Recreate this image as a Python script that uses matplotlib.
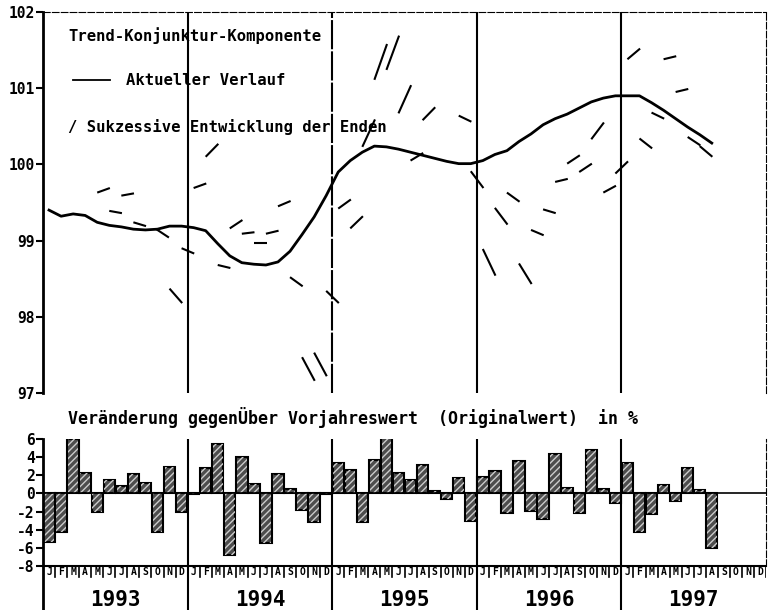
import numpy as np
import matplotlib
matplotlib.use("Agg")
import matplotlib.pyplot as plt

# Trend-Konjunktur-Komponente, monthly Jan 1993 .. Aug 1997
trend = [99.40, 99.32, 99.35, 99.33, 99.24, 99.20, 99.18, 99.15, 99.14, 99.15, 99.19, 99.19,
         99.17, 99.13, 98.96, 98.80, 98.71, 98.69, 98.68, 98.72, 98.86, 99.08, 99.31, 99.59,
         99.90, 100.05, 100.16, 100.24, 100.23, 100.20, 100.16, 100.12, 100.08, 100.04, 100.01, 100.01,
         100.05, 100.13, 100.18, 100.30, 100.40, 100.52, 100.60, 100.66, 100.74, 100.82, 100.87, 100.90,
         100.90, 100.90, 100.81, 100.71, 100.60, 100.49, 100.39, 100.28]

# successive end estimates: start month index, value at start, value one month later
seg_month = [4, 6, 5, 7, 8.9, 11, 10, 12, 13, 14, 15, 16, 17, 18, 19, 20, 23, 21, 22, 24,
             25, 26, 27, 28, 29, 30, 31, 34, 35, 36, 37, 38, 39, 40, 41, 42, 43, 44, 45, 46,
             47, 48, 49, 50, 51, 52, 53, 54]
seg_v0 = [99.63, 99.59, 99.39, 99.24, 99.15, 98.90, 98.37, 99.69, 100.10, 98.68, 99.16, 99.09,
          98.97, 99.09, 99.45, 98.52, 98.34, 97.47, 97.53, 99.42, 99.16, 100.23, 101.11, 101.24,
          100.67, 100.05, 100.58, 100.64, 99.91, 98.89, 99.43, 99.63, 98.70, 99.14, 99.41, 99.77,
          100.01, 99.90, 100.33, 99.63, 99.88, 101.38, 100.34, 100.68, 101.38, 100.95, 100.36, 100.24]
seg_v1 = [99.69, 99.62, 99.36, 99.19, 99.04, 98.83, 98.18, 99.75, 100.27, 98.64, 99.27, 99.11,
          98.97, 99.13, 99.52, 98.40, 98.18, 97.16, 97.22, 99.54, 99.32, 100.59, 101.58, 101.69,
          101.04, 100.15, 100.75, 100.56, 99.69, 98.54, 99.21, 99.51, 98.43, 99.07, 99.36, 99.81,
          100.12, 100.01, 100.55, 99.72, 100.04, 101.52, 100.21, 100.60, 101.42, 100.99, 100.25, 100.10]

# Veraenderung gegenueber Vorjahreswert in %, Jan 1993 .. Aug 1997
change = [-5.3, -4.3, 6.0, 2.3, -2.0, 1.5, 0.8, 2.1, 1.2, -4.3, 2.9, -2.0,
          -0.1, 2.8, 5.4, -6.8, 4.0, 1.0, -5.5, 2.1, 0.5, -1.8, -3.2, -0.1,
          3.4, 2.6, -3.1, 3.7, 6.1, 2.3, 1.5, 3.1, 0.3, -0.6, 1.7, -3.0,
          1.8, 2.5, -2.2, 3.6, -1.9, -2.8, 4.4, 0.6, -2.2, 4.8, 0.5, -1.0,
          3.4, -4.3, -2.3, 0.9, -0.8, 2.8, 0.4, -6.0]

years = ["1993", "1994", "1995", "1996", "1997"]
months = ["J", "F", "M", "A", "M", "J", "J", "A", "S", "O", "N", "D"]

font = "DejaVu Sans Mono"
plt.rcParams['font.family'] = font
plt.rcParams['font.weight'] = 'bold'
plt.rcParams['hatch.linewidth'] = 1.0

fig = plt.figure(figsize=(7.7, 6.1), dpi=100)

ax = fig.add_axes([43 / 770, 1 - 393 / 610, 723 / 770, 381 / 610])
ax2 = fig.add_axes([43 / 770, 0.0, 723 / 770, 1 - 439 / 610])

nmon = len(years) * 12
bounds = [12 * k - 0.5 for k in range(1, len(years))]

# --- top panel ---
x = np.arange(len(trend))
ax.plot(x, trend, color='black', lw=2.0, solid_joinstyle='round')
for m, a, b in zip(seg_month, seg_v0, seg_v1):
    ax.plot([m, m + 1.05], [a, b], color='black', lw=1.5, solid_capstyle='butt')

for i, b in enumerate(bounds):
    ax.axvline(b, color='black', lw=1.5, ls=(0, (14, 1)) if i == 1 else '-')

ax.set_xlim(-0.5, nmon - 0.5)
ax.set_ylim(97, 102)
ax.set_yticks([97, 98, 99, 100, 101, 102])
ax.set_xticks([])
ax.tick_params(axis='y', direction='out', length=5, width=1.5, labelsize=10.5, pad=1)
ax.spines['left'].set_linewidth(2)
ax.spines['bottom'].set_visible(False)
ax.spines['top'].set_linewidth(0.8)
ax.spines['top'].set_linestyle((0, (6, 2)))
ax.spines['right'].set_linewidth(0.8)
ax.spines['right'].set_linestyle((0, (6, 2)))

ax.text(0.035, 0.937, "Trend-Konjunktur-Komponente", transform=ax.transAxes,
        fontsize=11.2, va='center', ha='left')
ax.plot([0.041, 0.093], [0.8215, 0.8215], transform=ax.transAxes, color='black', lw=1.3)
ax.text(0.115, 0.8215, "Aktueller Verlauf", transform=ax.transAxes,
        fontsize=11.2, va='center', ha='left')
ax.text(0.035, 0.698, "/ Sukzessive Entwicklung der Enden", transform=ax.transAxes,
        fontsize=11.2, va='center', ha='left')

# --- bottom panel ---
xb = np.arange(len(change))
ax2.bar(xb, change, width=0.95, color='0.3', edgecolor='black', lw=1.5)
ax2.bar(xb, change, width=0.8, color='none', edgecolor='0.8', lw=0, hatch='/////')
ax2.axhline(0, color='black', lw=1.2)
ax2.axhline(-8, color='black', lw=1.5)

for b in bounds:
    ax2.axvline(b, color='black', lw=1.5)
for k in range(nmon):
    ax2.plot([k + 0.5, k + 0.5], [-8, -9.25], color='black', lw=1.2)
    ax2.text(k, -8.65, months[k % 12], ha='center', va='center', fontsize=7)
for i, yr in enumerate(years):
    ax2.text(12 * i + 5.5, -11.8, yr, ha='center', va='center', fontsize=15)

ax2.set_xlim(-0.5, nmon - 0.5)
ax2.set_ylim(-12.85, 6)
ax2.set_yticks([-8, -6, -4, -2, 0, 2, 4, 6])
ax2.set_yticklabels(["-8", "-6", "-4", "-2", "0", "2", "4", "6"])
ax2.set_xticks([])
ax2.tick_params(axis='y', direction='out', length=5, width=1.5, labelsize=10.5, pad=1)
ax2.spines['left'].set_linewidth(2)
ax2.spines['bottom'].set_visible(False)
ax2.spines['top'].set_visible(False)
ax2.spines['right'].set_linewidth(0.8)
ax2.spines['right'].set_linestyle((0, (6, 2)))
ax2.spines['right'].set_bounds(-8, 6)

fig.text(68 / 770, 1 - 418 / 610,
         "Veränderung gegenÜber Vorjahreswert  (Originalwert)  in %",
         fontsize=12, va='center', ha='left')

fig.savefig("out.png", dpi=100)
